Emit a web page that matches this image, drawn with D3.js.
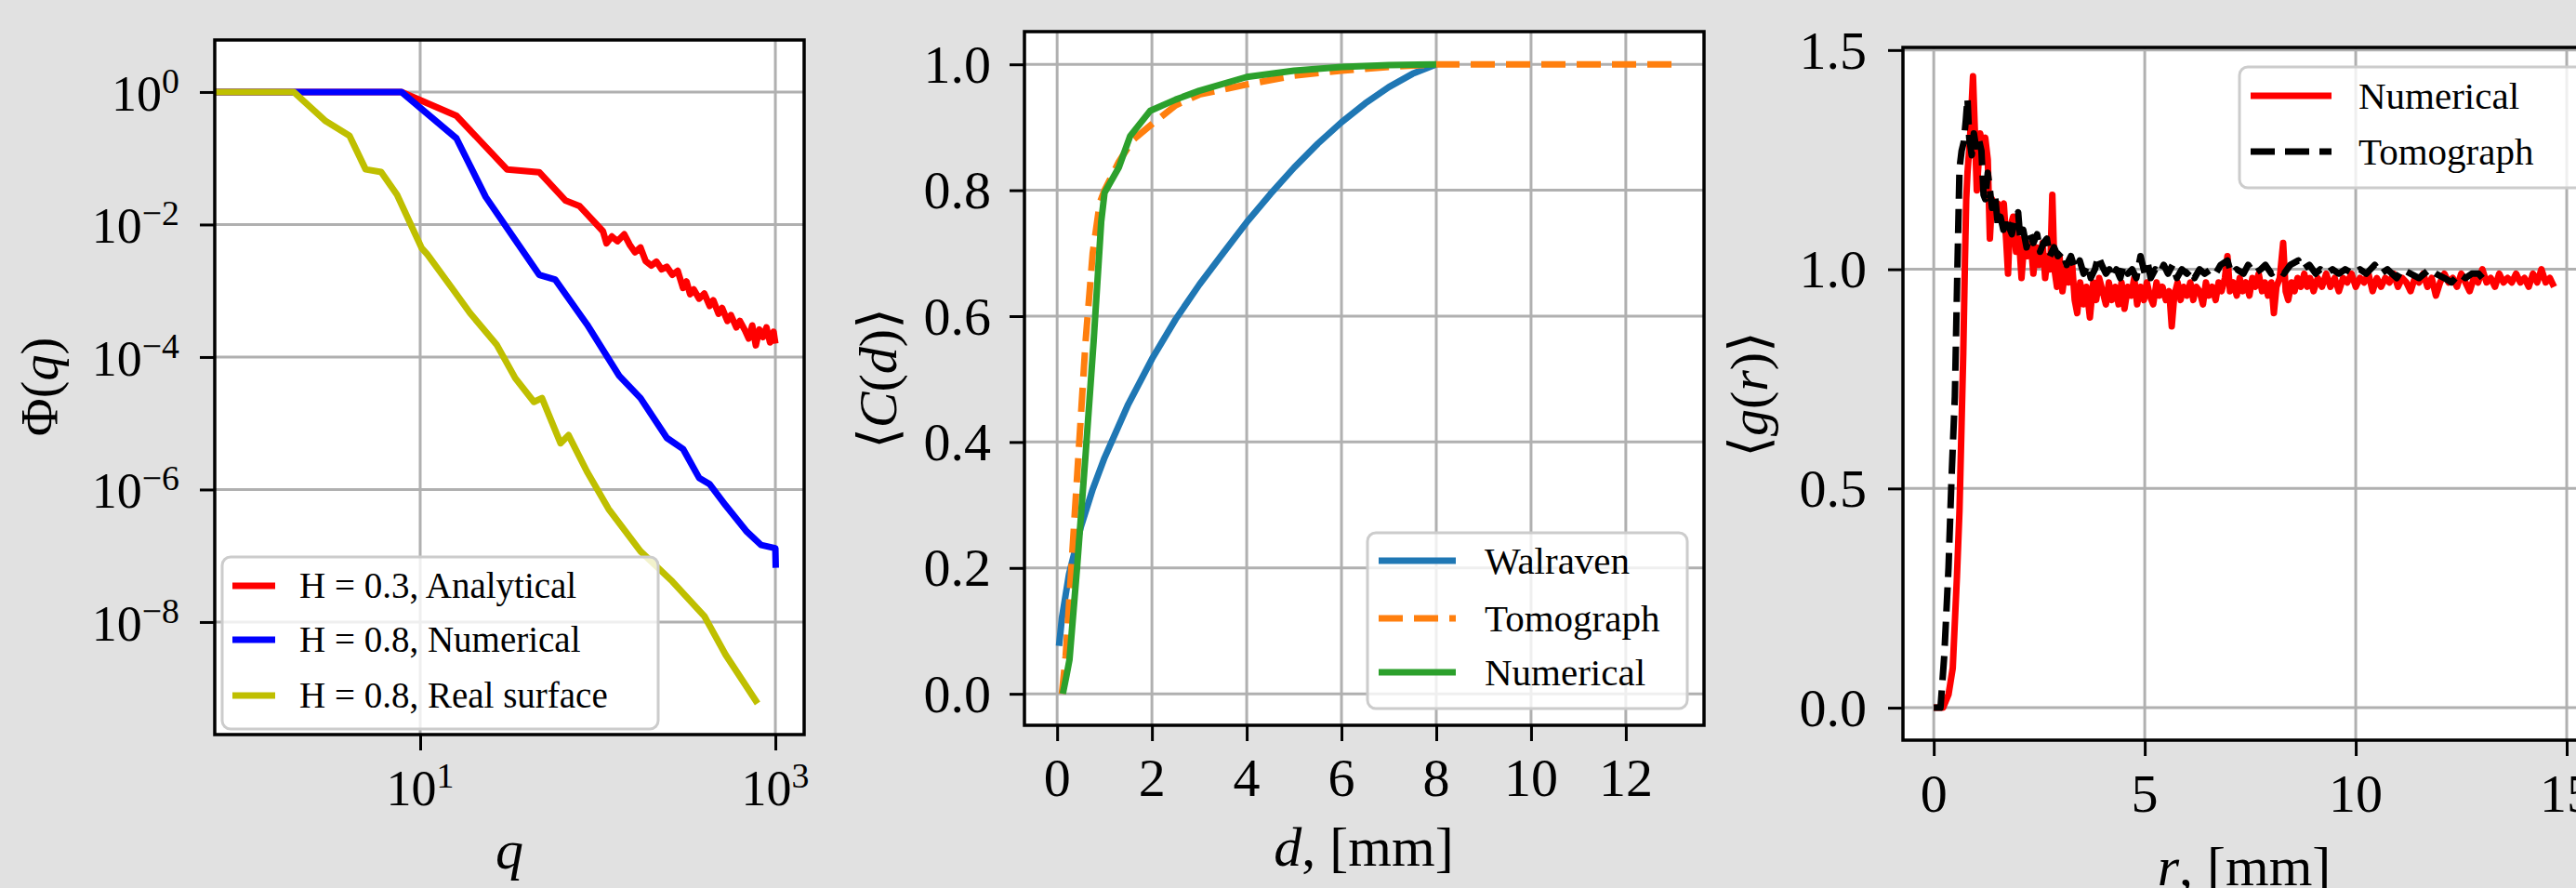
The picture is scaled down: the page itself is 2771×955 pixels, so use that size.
<!DOCTYPE html>
<html>
<head>
<meta charset="utf-8">
<script src="https://cdn.jsdelivr.net/npm/d3@7"></script>
<style>
  body { margin: 0; background: #e1e1e1; }
  svg { display: block; }
  text { font-family: "Liberation Serif", "DejaVu Serif", serif; fill: #000; }
</style>
</head>
<body>
<script>
'use strict';

// ---- panel 1 : power spectrum Phi(q), log-log ----
const phiAnalytical = [[0.70,1],[7.85,1],[16.0,0.438],[30.9,0.0676],[46.8,0.0617],[66,0.0229],[78.7,0.0191],
  [107,7.9e-3],[112,5.2e-3],[120,6.6e-3],[129,5.6e-3],[141,7.1e-3],[151,5.0e-3],[162,3.8e-3],[174,4.5e-3],
  [186,2.8e-3],[200,2.4e-3],[214,2.75e-3],[229,2.1e-3],[245,2.3e-3],[263,1.74e-3],[282,2.0e-3],[302,1.1e-3],
  [316,1.38e-3],[331,8.9e-4],[347,1.05e-3],[372,7.6e-4],[398,9.1e-4],[427,5.9e-4],[447,7.2e-4],[479,4.5e-4],
  [501,5.5e-4],[537,3.5e-4],[562,4.3e-4],[603,2.8e-4],[631,3.5e-4],[676,2.5e-4],[708,1.9e-4],[741,3.0e-4],
  [776,1.5e-4],[813,2.6e-4],[851,2.0e-4],[891,2.8e-4],[933,1.66e-4],[977,2.4e-4],[1000,1.6e-4]];
const phiNumerical = [[0.70,1],[7.85,1],[16.0,0.2],[23.4,2.6e-2],[46.8,1.74e-3],[57.5,1.48e-3],[87,3.1e-4],
  [132,5.2e-5],[174,2.4e-5],[245,6.0e-6],[302,4.1e-6],[372,1.5e-6],[427,1.2e-6],[525,5.75e-7],[692,2.3e-7],
  [832,1.45e-7],[1000,1.3e-7],[1005,6.6e-8]];
const phiReal = [[0.70,1],[1.94,1],[2.94,0.363],[4.0,0.219],[4.93,0.068],[6.03,0.062],[7.41,0.028],[10.2,4.4e-3],
  [11.0,3.5e-3],[15.5,1.0e-3],[19.1,4.6e-4],[26.9,1.55e-4],[34.3,4.8e-5],[43.7,2.1e-5],[48.5,2.4e-5],[61.7,5.0e-6],
  [68.5,6.6e-6],[87,1.86e-6],[115,5.1e-7],[174,1.17e-7],[263,4.1e-8],[398,1.23e-8],[525,3.2e-9],[794,5.9e-10]];
const phiXTicks = [10, 1000];
const phiXExp = ['1', '3'];
const phiYTicks = [1, 1e-2, 1e-4, 1e-6, 1e-8];
const phiYExp = ['0', '\u22122', '\u22124', '\u22126', '\u22128'];
const phiLegend = ['H = 0.3, Analytical', 'H = 0.8, Numerical', 'H = 0.8, Real surface'];

// ---- panel 2 : contact fraction C(d) ----
const cdWalraven = [[0.04,0.076],[0.1,0.12],[0.25,0.19],[0.5,0.265],[0.75,0.325],[1,0.375],[1.5,0.46],[2,0.532],
  [2.5,0.595],[3,0.65],[3.5,0.70],[4,0.749],[4.5,0.794],[5,0.836],[5.5,0.874],[6,0.908],[6.5,0.938],[7,0.964],
  [7.5,0.985],[8,1.0]];
const cdTomograph = [[0.1,0],[0.18,0.06],[0.3,0.2],[0.45,0.38],[0.6,0.56],[0.75,0.7],[0.9,0.78],[1.0,0.8],
  [1.3,0.845],[1.6,0.88],[2,0.905],[2.5,0.935],[3,0.952],[4,0.968],[5,0.982],[6,0.99],[7,0.996],[8,1.0],[13,1.0]];
const cdNumerical = [[0.12,0],[0.2,0.03],[0.26,0.054],[0.42,0.2],[0.6,0.38],[0.77,0.56],[0.93,0.75],[1.0,0.796],
  [1.3,0.836],[1.54,0.886],[1.96,0.926],[2.5,0.944],[3,0.958],[4,0.98],[5,0.99],[6,0.996],[7,0.999],[8,1.0]];
const cdXTicks = [0, 2, 4, 6, 8, 10, 12];
const cdYTicks = [0, 0.2, 0.4, 0.6, 0.8, 1.0];
const cdLegend = ['Walraven', 'Tomograph', 'Numerical'];

// ---- panel 3 : radial distribution g(r) ----
const grNumerical = [[0,0],[0.22,0],[0.35,0.03],[0.45,0.09],[0.55,0.3],[0.61,0.45],[0.66,0.65],[0.70,0.81],
  [0.74,1.02],[0.77,1.16],[0.80,1.22],[0.86,1.30],[0.93,1.44],[0.98,1.30],[1.02,1.18],[1.06,1.24],[1.10,1.31],
  [1.16,1.28],[1.22,1.30],[1.28,1.25],[1.33,1.07],[1.38,1.16],[1.45,1.12],[1.52,1.15],[1.60,1.13],[1.66,1.15],
  [1.72,1.06],[1.76,0.99],[1.80,1.09],[1.88,1.12],[1.95,1.04],[2.02,1.07],[2.08,0.98],[2.15,1.07],[2.22,1.03],
  [2.30,1.06],[2.36,0.99],[2.43,1.05],[2.50,1.01],[2.58,1.06],[2.64,0.98],[2.70,1.03],[2.76,1.00],[2.81,1.17],
  [2.86,1.00],[2.92,0.96],[2.98,1.03],[3.05,0.95],[3.12,1.00],[3.20,0.97],[3.28,1.01],[3.34,0.93],[3.40,0.90],
  [3.47,0.97],[3.55,0.92],[3.62,0.96],[3.70,0.89],[3.78,0.97],[3.85,0.93],[3.92,0.98],[4.00,0.95],[4.08,0.92],
  [4.15,0.97],[4.22,0.93],[4.30,0.96],[4.38,0.92],[4.45,0.97],[4.52,0.91],[4.60,0.96],[4.68,0.94],[4.75,0.98],
  [4.82,0.92],[4.90,0.96],[4.98,0.93],[5.05,0.97],[5.12,0.94],[5.20,0.92],[5.28,0.97],[5.35,0.94],[5.42,0.96],
  [5.50,0.93],[5.58,0.95],[5.64,0.87],[5.70,0.94],[5.78,0.97],[5.85,0.93],[5.92,0.96],[6.00,0.94],[6.08,0.97],
  [6.15,0.93],[6.22,0.96],[6.30,0.95],[6.38,0.92],[6.45,0.97],[6.52,0.94],[6.60,0.96],[6.68,0.93],[6.75,0.97],
  [6.82,0.95],[6.90,0.98],[6.96,1.03],[7.02,0.95],[7.10,0.97],[7.18,0.94],[7.25,0.98],[7.32,0.95],[7.40,0.97],
  [7.48,0.94],[7.55,0.98],[7.62,0.96],[7.70,0.99],[7.78,0.95],[7.85,0.97],[7.92,0.94],[8.00,0.97],[8.06,0.90],
  [8.12,0.96],[8.20,0.98],[8.28,1.06],[8.34,0.95],[8.40,0.93],[8.48,0.97],[8.55,0.95],[8.62,0.98],[8.70,0.96],
  [8.78,0.99],[8.85,0.96],[8.92,0.98],[9.00,0.95],[9.10,0.98],[9.20,0.96],[9.30,0.99],[9.40,0.96],[9.50,0.98],
  [9.60,0.95],[9.70,0.98],[9.80,0.97],[9.90,0.99],[10.0,0.96],[10.1,0.98],[10.2,0.97],[10.3,0.99],[10.4,0.95],
  [10.5,0.98],[10.6,0.96],[10.7,0.98],[10.8,0.97],[10.9,0.99],[11.0,0.96],[11.1,0.98],[11.2,0.97],[11.3,0.95],
  [11.4,0.98],[11.5,0.97],[11.6,0.99],[11.7,0.96],[11.8,0.98],[11.9,0.94],[12.0,0.97],[12.1,0.99],[12.2,0.97],
  [12.3,0.98],[12.4,0.96],[12.5,0.99],[12.6,0.97],[12.7,0.95],[12.8,0.98],[12.9,0.97],[13.0,1.0],[13.1,0.97],
  [13.2,0.98],[13.3,0.96],[13.4,0.99],[13.5,0.97],[13.6,0.98],[13.7,0.97],[13.8,0.99],[13.9,0.97],[14.0,0.98],
  [14.1,0.96],[14.2,0.99],[14.3,0.97],[14.4,1.0],[14.5,0.97],[14.6,0.98],[14.7,0.96]];
const grTomograph = [[0,0],[0.16,0],[0.25,0.12],[0.35,0.32],[0.42,0.52],[0.50,0.71],[0.56,1.0],[0.61,1.23],
  [0.66,1.27],[0.71,1.29],[0.76,1.34],[0.80,1.39],[0.84,1.30],[0.90,1.26],[0.95,1.31],[1.00,1.28],[1.06,1.30],
  [1.13,1.27],[1.18,1.17],[1.22,1.16],[1.28,1.22],[1.32,1.19],[1.38,1.14],[1.45,1.17],[1.52,1.10],[1.58,1.12],
  [1.65,1.09],[1.72,1.12],[1.77,1.10],[1.85,1.08],[1.92,1.11],[2.00,1.13],[2.05,1.07],[2.12,1.09],[2.20,1.05],
  [2.28,1.08],[2.36,1.06],[2.45,1.08],[2.52,1.04],[2.60,1.06],[2.68,1.07],[2.75,1.03],[2.85,1.05],[2.94,1.03],
  [3.05,1.04],[3.15,1.01],[3.25,1.03],[3.35,1.00],[3.46,1.02],[3.55,0.99],[3.65,1.01],[3.72,0.98],[3.82,1.00],
  [3.90,1.03],[3.98,1.01],[4.08,0.99],[4.16,1.00],[4.24,0.98],[4.33,1.00],[4.42,0.98],[4.50,1.01],[4.60,0.99],
  [4.70,1.00],[4.80,0.98],[4.90,1.03],[5.00,0.99],[5.08,1.01],[5.14,0.98],[5.25,1.00],[5.35,0.99],[5.45,1.01],
  [5.55,0.99],[5.66,1.01],[5.76,0.98],[5.88,1.00],[6.00,0.99],[6.10,1.00],[6.18,0.98],[6.30,1.00],[6.42,0.99],
  [6.57,1.00],[6.68,0.99],[6.80,1.01],[6.96,1.02],[7.05,0.99],[7.18,1.00],[7.34,0.99],[7.45,1.01],[7.60,0.99],
  [7.75,1.00],[7.86,1.01],[8.00,0.99],[8.15,1.00],[8.30,0.99],[8.45,1.01],[8.64,1.02],[8.75,1.00],[8.90,1.01],
  [9.05,0.99],[9.16,1.00],[9.30,0.99],[9.45,1.00],[9.60,0.99],[9.75,1.00],[9.94,0.99],[10.1,1.00],[10.25,0.99],
  [10.45,1.01],[10.6,0.99],[10.75,1.00],[10.97,0.98],[11.1,1.00],[11.3,0.99],[11.5,0.98],[11.75,1.00],[11.9,0.99],
  [12.1,0.98],[12.27,0.97],[12.45,0.99],[12.6,0.98],[12.75,0.99],[12.91,0.99],[13.0,0.98]];
const grXTicks = [0, 5, 10, 15];
const grYTicks = [0, 0.5, 1.0, 1.5];
const grLegend = ['Numerical', 'Tomograph'];

const W = 2771, H = 955;
const svg = d3.select('body').append('svg').attr('width', W).attr('height', H);
svg.append('rect').attr('width', W).attr('height', H).attr('fill', '#e1e1e1');

let clipId = 0;

// draw one axes box: background, grid, curves, spines, ticks
function drawPanel(p) {
  const g = svg.append('g');
  const [x0, x1] = p.x.range();
  const [y0, y1] = p.y.range(); // y0 = bottom, y1 = top

  g.append('rect').attr('x', x0).attr('y', y1).attr('width', x1 - x0).attr('height', y0 - y1).attr('fill', '#fff');

  // grid
  g.selectAll('.gx').data(p.xTicks).enter().append('line')
    .attr('x1', d => p.x(d)).attr('x2', d => p.x(d)).attr('y1', y1).attr('y2', y0)
    .attr('stroke', '#b0b0b0').attr('stroke-width', 3);
  g.selectAll('.gy').data(p.yTicks).enter().append('line')
    .attr('x1', x0).attr('x2', x1).attr('y1', d => p.y(d)).attr('y2', d => p.y(d))
    .attr('stroke', '#b0b0b0').attr('stroke-width', 3);

  // curves, clipped to the box
  const cid = 'clip' + (clipId++);
  svg.append('clipPath').attr('id', cid).append('rect')
    .attr('x', x0).attr('y', y1).attr('width', x1 - x0).attr('height', y0 - y1);
  const line = d3.line().x(d => p.x(d[0])).y(d => p.y(d[1]));
  p.series.forEach(s => {
    g.append('path').datum(s.data).attr('d', line).attr('clip-path', 'url(#' + cid + ')')
      .attr('fill', 'none').attr('stroke', s.color).attr('stroke-width', 7)
      .attr('stroke-linejoin', 'round')
      .attr('stroke-dasharray', s.dash || null);
  });

  // spines
  g.append('rect').attr('x', x0).attr('y', y1).attr('width', x1 - x0).attr('height', y0 - y1)
    .attr('fill', 'none').attr('stroke', '#000').attr('stroke-width', 3.5);

  // ticks via d3 axes, labels drawn separately
  g.append('g').attr('transform', 'translate(0,' + y0 + ')')
    .call(d3.axisBottom(p.x).tickValues(p.xTicks).tickSize(17).tickFormat(''))
    .call(a => a.select('.domain').remove())
    .call(a => a.selectAll('line').attr('stroke-width', 3));
  g.append('g').attr('transform', 'translate(' + x0 + ',0)')
    .call(d3.axisLeft(p.y).tickValues(p.yTicks).tickSize(16).tickFormat(''))
    .call(a => a.select('.domain').remove())
    .call(a => a.selectAll('line').attr('stroke-width', 3));
  return g;
}

// plain numeric tick labels
function numLabels(g, p, fs, xBase, yRight, digits) {
  g.selectAll('.xl').data(p.xTicks).enter().append('text')
    .attr('x', d => p.x(d)).attr('y', xBase).attr('text-anchor', 'middle')
    .style('font-size', fs + 'px').text(d => d.toFixed(digits[0]));
  g.selectAll('.yl').data(p.yTicks).enter().append('text')
    .attr('x', yRight).attr('y', d => p.y(d) + fs * 0.34).attr('text-anchor', 'end')
    .style('font-size', fs + 'px').text(d => d.toFixed(digits[1]));
}

// power-of-ten labels with superscripts
function powLabel(sel, exp, fs) {
  sel.append('tspan').text('10');
  sel.append('tspan').attr('dy', -fs * 0.36).style('font-size', (fs * 0.7) + 'px').text(exp);
}

// axis label made of italic / upright pieces
function richText(sel, parts) {
  parts.forEach(pt => sel.append('tspan').style('font-style', pt[1] ? 'italic' : 'normal').text(pt[0]));
}

function legend(box, items, fs, handle, textX, rows) {
  const g = svg.append('g');
  g.append('rect').attr('x', box[0]).attr('y', box[1]).attr('width', box[2] - box[0]).attr('height', box[3] - box[1])
    .attr('rx', 9).attr('fill', '#fff').attr('fill-opacity', 0.8).attr('stroke', '#cccccc').attr('stroke-width', 3);
  items.forEach((it, i) => {
    g.append('line').attr('x1', handle[0]).attr('x2', handle[1]).attr('y1', rows[i]).attr('y2', rows[i])
      .attr('stroke', it.color).attr('stroke-width', 7).attr('stroke-dasharray', it.dash || null);
    g.append('text').attr('x', textX).attr('y', rows[i] + fs * 0.33).style('font-size', fs + 'px').text(it.label);
  });
}

// ---------- panel 1 ----------
const p1 = {
  x: d3.scaleLog().domain([0.697, 1452]).range([231, 865]),
  y: d3.scaleLog().domain([2.0e-10, 6.1]).range([790, 43]),
  xTicks: phiXTicks, yTicks: phiYTicks,
  series: [
    { data: phiAnalytical, color: '#ff0000' },
    { data: phiNumerical, color: '#0000ff' },
    { data: phiReal, color: '#bfbf00' }
  ]
};
const g1 = drawPanel(p1);
const fs1 = 54;
phiXTicks.forEach((t, i) => {
  const tx = g1.append('text').attr('x', p1.x(t)).attr('y', 866).attr('text-anchor', 'middle')
    .style('font-size', fs1 + 'px');
  powLabel(tx, phiXExp[i], fs1);
});
phiYTicks.forEach((t, i) => {
  const tx = g1.append('text').attr('x', 193).attr('y', p1.y(t) + 20).attr('text-anchor', 'end')
    .style('font-size', fs1 + 'px');
  powLabel(tx, phiYExp[i], fs1);
});
richText(svg.append('text').attr('x', 548).attr('y', 934).attr('text-anchor', 'middle').style('font-size', '60px'),
  [['q', true]]);
richText(svg.append('text').attr('transform', 'translate(62,416) rotate(-90)').attr('text-anchor', 'middle')
  .style('font-size', '56px'), [['\u03A6(', false], ['q', true], [')', false]]);
legend([239, 599, 708, 784], [
  { label: phiLegend[0], color: '#ff0000' },
  { label: phiLegend[1], color: '#0000ff' },
  { label: phiLegend[2], color: '#bfbf00' }
], 39, [250, 296], 322, [630, 688, 748]);

// ---------- panel 2 ----------
const p2 = {
  x: d3.scaleLinear().domain([-0.69, 13.65]).range([1102, 1833]),
  y: d3.scaleLinear().domain([-0.05, 1.052]).range([780, 34]),
  xTicks: cdXTicks, yTicks: cdYTicks,
  series: [
    { data: cdWalraven, color: '#1f77b4' },
    { data: cdTomograph, color: '#ff7f0e', dash: '26,12' },
    { data: cdNumerical, color: '#2ca02c' }
  ]
};
const g2 = drawPanel(p2);
numLabels(g2, p2, 58, 856, 1066, [0, 1]);
richText(svg.append('text').attr('x', 1467).attr('y', 931).attr('text-anchor', 'middle').style('font-size', '60px'),
  [['d', true], [', [mm]', false]]);
richText(svg.append('text').attr('transform', 'translate(964,407) rotate(-90)').attr('text-anchor', 'middle')
  .style('font-size', '58px'), [['\u27E8', false], ['C', true], ['(', false], ['d', true], [')\u27E9', false]]);
legend([1471, 573, 1815, 762], [
  { label: cdLegend[0], color: '#1f77b4' },
  { label: cdLegend[1], color: '#ff7f0e', dash: '26,12' },
  { label: cdLegend[2], color: '#2ca02c' }
], 41, [1483, 1566], 1597, [603, 665, 723]);

// ---------- panel 3 ----------
const p3 = {
  x: d3.scaleLinear().domain([-0.73, 15.44]).range([2047, 2781]),
  y: d3.scaleLinear().domain([-0.074, 1.506]).range([796, 51]),
  xTicks: grXTicks, yTicks: grYTicks,
  series: [
    { data: grNumerical, color: '#ff0000' },
    { data: grTomograph, color: '#000000', dash: '26,11' }
  ]
};
const g3 = drawPanel(p3);
numLabels(g3, p3, 58, 873, 2008, [0, 1]);
richText(svg.append('text').attr('x', 2414).attr('y', 952).attr('text-anchor', 'middle').style('font-size', '60px'),
  [['r', true], [', [mm]', false]]);
richText(svg.append('text').attr('transform', 'translate(1901,424) rotate(-90)').attr('text-anchor', 'middle')
  .style('font-size', '58px'), [['\u27E8', false], ['g', true], ['(', false], ['r', true], [')\u27E9', false]]);
legend([2409, 72, 2785, 202], [
  { label: grLegend[0], color: '#ff0000' },
  { label: grLegend[1], color: '#000000', dash: '26,11' }
], 41, [2421, 2508], 2537, [103, 163]);
</script>
</body>
</html>
